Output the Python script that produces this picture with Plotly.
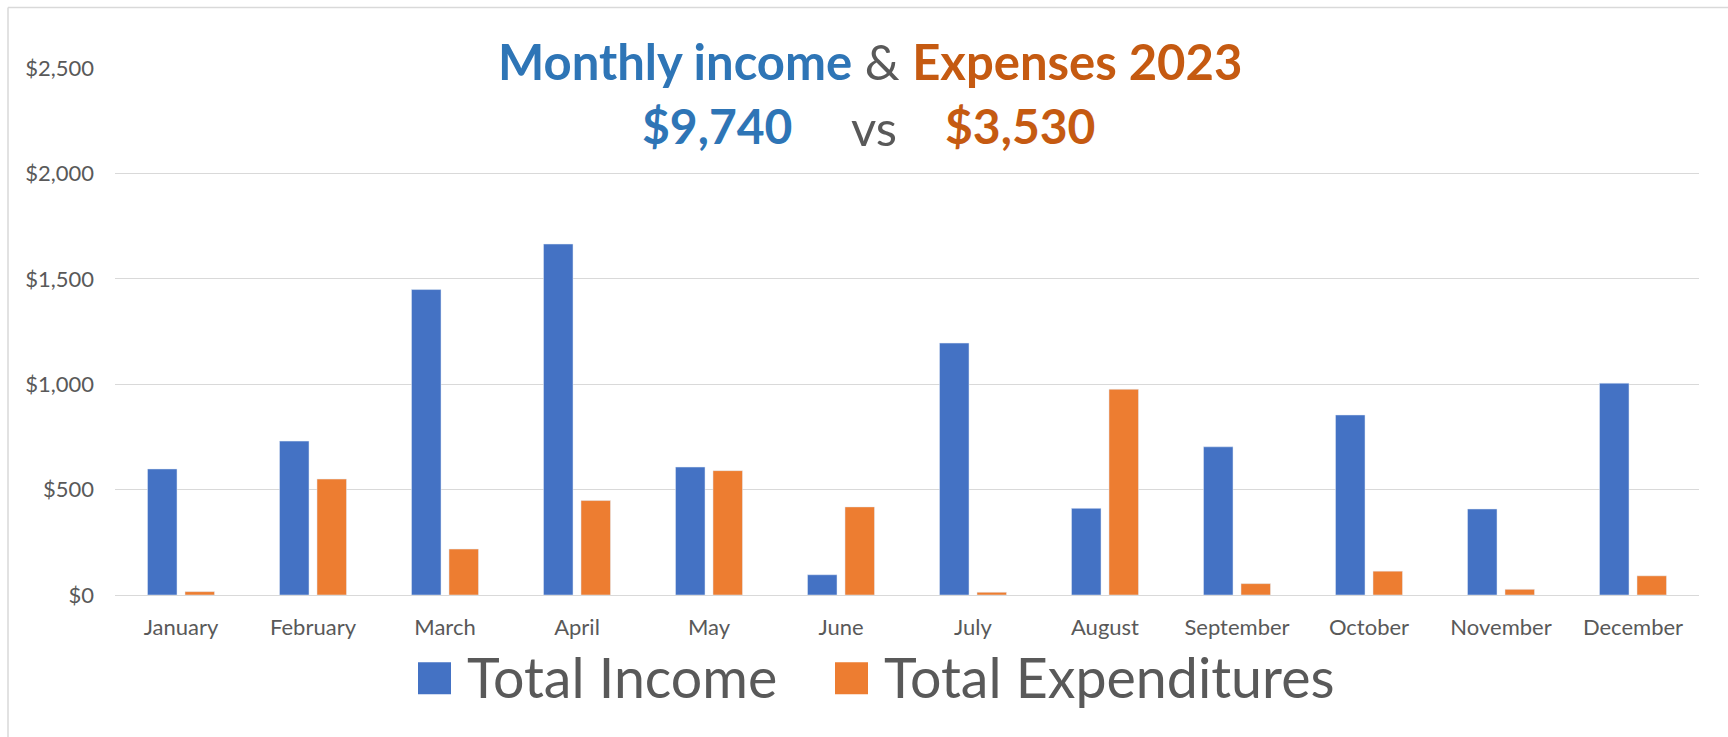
import plotly.graph_objects as go

months = ["January", "February", "March", "April", "May", "June", "July",
          "August", "September", "October", "November", "December"]
income = [598, 730, 1449, 1665, 607, 96, 1195, 411, 703, 854, 408, 1005]
expenses = [16, 550, 218, 448, 590, 418, 13, 976, 54, 113, 27, 91]
series_names = ["Total Income", "Total Expenditures"]
total_income_text = "$9,740"
total_expense_text = "$3,530"

BLUE = "#4472C4"
ORANGE = "#ED7D31"
TITLE_BLUE = "#2E75B6"
TITLE_ORANGE = "#C55A11"
GRAY = "#595959"
GRID = "#D9D9D9"
FONT = "Lato"

W, H = 1728, 737
PL, PR, PT, PB = 115, 1699, 67.5, 594.7


def px(x):
    return (x - PL) / (PR - PL)


def py(y):
    return (PB - y) / (PB - PT)


fig = go.Figure()
fig.add_bar(x=months, y=income, name=series_names[0], marker_color=BLUE,
            showlegend=False)
fig.add_bar(x=months, y=expenses, name=series_names[1], marker_color=ORANGE,
            showlegend=False)

annotations = [
    dict(text=(f"<b><span style='color:{TITLE_BLUE}'>Monthly income</span></b>"
               f" <span style='color:{GRAY}'>&amp;</span> "
               f"<b><span style='color:{TITLE_ORANGE}'>Expenses 2023</span></b>"),
         x=px(870), y=py(60), font=dict(size=49, family=FONT)),
    dict(text=f"<b>{total_income_text}</b>", x=px(717), y=py(125),
         font=dict(size=48, family=FONT, color=TITLE_BLUE)),
    dict(text="vs", x=px(874), y=py(127),
         font=dict(size=49, family=FONT, color=GRAY)),
    dict(text=f"<b>{total_expense_text}</b>", x=px(1020), y=py(125),
         font=dict(size=48, family=FONT, color=TITLE_ORANGE)),
    dict(text=series_names[0], x=px(465), y=py(676), xanchor="left",
         font=dict(size=55.5, family=FONT, color=GRAY)),
    dict(text=series_names[1], x=px(882), y=py(676), xanchor="left",
         font=dict(size=55.5, family=FONT, color=GRAY)),
]
for a in annotations:
    a.setdefault("xanchor", "center")
    a.update(xref="paper", yref="paper", yanchor="middle", showarrow=False)

shapes = [
    dict(type="rect", x0=px(418), x1=px(451), y0=py(694), y1=py(662),
         fillcolor=BLUE, line_width=0),
    dict(type="rect", x0=px(835), x1=px(868), y0=py(694), y1=py(662),
         fillcolor=ORANGE, line_width=0),
    dict(type="line", x0=px(8), x1=px(8), y0=py(7), y1=py(760),
         line=dict(color=GRID, width=1.5)),
    dict(type="line", x0=px(8), x1=px(1760), y0=py(7), y1=py(7),
         line=dict(color=GRID, width=1.5)),
]
for s in shapes:
    s.update(xref="paper", yref="paper")

fig.update_layout(
    width=W, height=H,
    margin=dict(l=PL, r=W - PR, t=PT, b=H - PB, pad=0),
    paper_bgcolor="white", plot_bgcolor="white",
    barmode="group", bargap=0.432, bargroupgap=0.213,
    font=dict(family=FONT, color=GRAY),
    annotations=annotations, shapes=shapes,
    xaxis=dict(showgrid=False, showline=False, ticks="",
               tickfont=dict(size=22, family=FONT, color=GRAY),
               ticklabelstandoff=17),
    yaxis=dict(range=[0, 2500], dtick=500, tickprefix="$", tickformat=",d",
               showgrid=True, gridcolor=GRID, gridwidth=1.3,
               zeroline=True, zerolinecolor=GRID, zerolinewidth=1.3,
               showline=False, ticks="",
               tickfont=dict(size=22, family=FONT, color=GRAY),
               ticklabelstandoff=20),
)

fig.write_html("out.html", config={"displayModeBar": False},
               post_script="document.body.style.margin='0';document.body.style.overflow='hidden';")
